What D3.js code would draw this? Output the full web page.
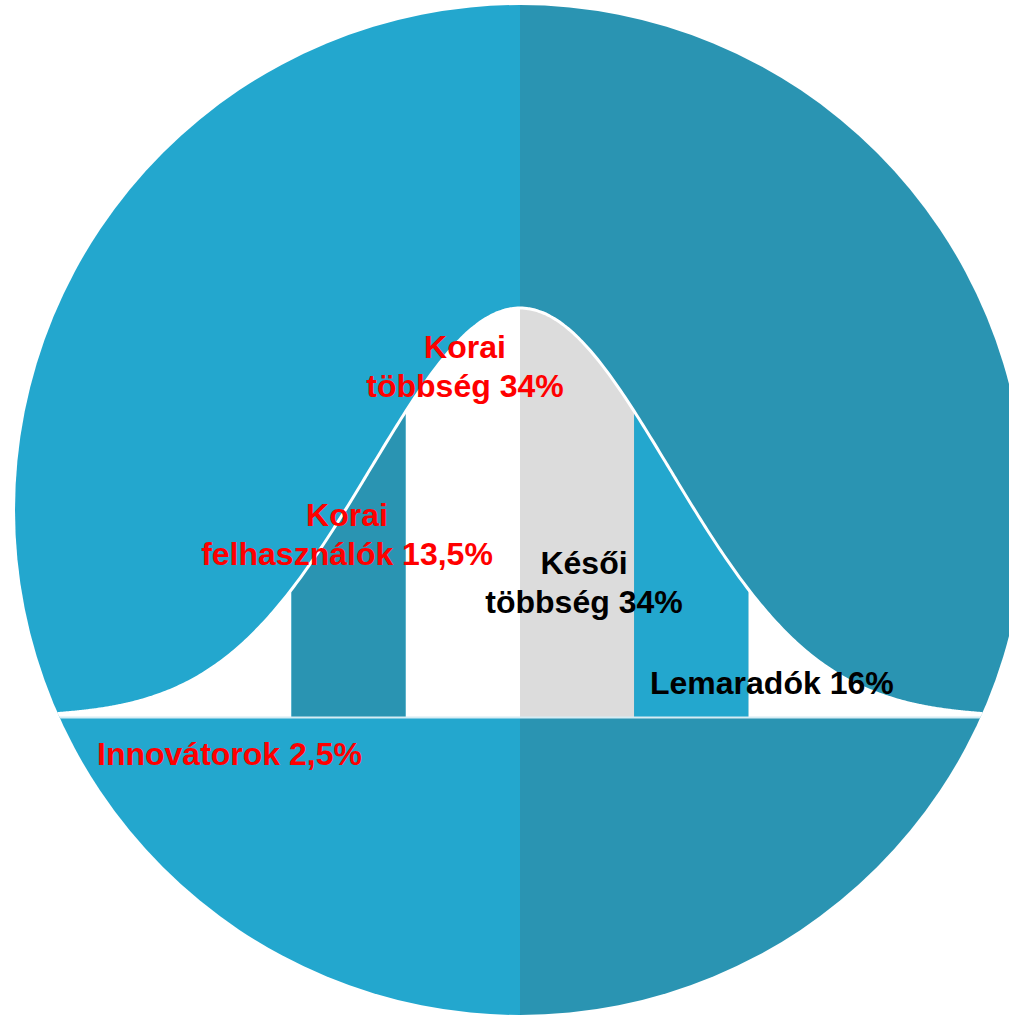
<!DOCTYPE html>
<html>
<head>
<meta charset="utf-8">
<script src="https://cdn.jsdelivr.net/npm/d3@7"></script>
<style>
  html, body { margin: 0; padding: 0; background: #ffffff; }
  svg { display: block; }
</style>
</head>
<body>
<script>
// ---- data ----
const categories = ["Innovátorok", "Korai felhasználók", "Korai többség", "Késői többség", "Lemaradók"];
const shares = ["2,5%", "13,5%", "34%", "34%", "16%"];
const labelColors = ["#ff0000", "#ff0000", "#ff0000", "#000000", "#000000"];
// bands of the bell curve, in standard-deviation units
const bandFrom = [-4.2, -2, -1, 0, 1, 2];
const bandTo   = [-2, -1, 0, 1, 2, 4.2];
const bandFill = ["#ffffff", "#2a94b2", "#ffffff", "#dcdcdc", "#23a7ce", "#ffffff"];
const curveSigma = 1.31;

// ---- layout ----
const W = 1009, H = 1017;
const cx = 520, cy = 510, R = 505;
const baseY = 717, peakY = 308;

const svg = d3.select("body").append("svg").attr("width", W).attr("height", H);

const x = d3.scaleLinear().domain([-4, 4]).range([63, 977]);
const y = d3.scaleLinear().domain([0, 1]).range([baseY, peakY]);
const dens = t => Math.exp(-(t * t) / (2 * curveSigma * curveSigma));

const defs = svg.append("defs");
defs.append("clipPath").attr("id", "circ")
  .append("circle").attr("cx", cx).attr("cy", cy).attr("r", R);

const g = svg.append("g").attr("clip-path", "url(#circ)");

// background halves
g.append("rect").attr("x", cx - R).attr("y", cy - R).attr("width", R).attr("height", 2 * R).attr("fill", "#23a7ce");
g.append("rect").attr("x", cx).attr("y", cy - R).attr("width", R).attr("height", 2 * R).attr("fill", "#2a94b2");

// bands under curve
const area = d3.area().x(d => x(d)).y0(baseY).y1(d => y(dens(d))).curve(d3.curveBasis);
bandFrom.forEach((a, i) => {
  const b = bandTo[i];
  const pts = d3.range(a, b + 1e-9, (b - a) / 60);
  if (pts[pts.length - 1] < b) pts.push(b);
  g.append("path").datum(pts).attr("d", area).attr("fill", bandFill[i]);
});

// curve outline
const full = d3.range(-4.3, 4.3 + 1e-9, 0.02);
const line = d3.line().x(d => x(d)).y(d => y(dens(d))).curve(d3.curveBasis);
g.append("path").datum(full).attr("d", line).attr("fill", "none").attr("stroke", "#ffffff").attr("stroke-width", 3);

// baseline
g.append("line").attr("x1", cx - R).attr("x2", cx + R).attr("y1", baseY + 0.5).attr("y2", baseY + 0.5)
  .attr("stroke", "#d6ecf3").attr("stroke-width", 2);

// ---- labels ----
const labelPos = [
  { x: 97,  y: 765, anchor: "start" },
  { x: 347, y: 526, anchor: "middle" },
  { x: 465, y: 358, anchor: "middle" },
  { x: 584, y: 574, anchor: "middle" },
  { x: 650, y: 694, anchor: "start" }
];
categories.forEach((c, i) => {
  const words = c.split(" ");
  const lines = words.length > 1 ? [words[0], words.slice(1).join(" ") + " " + shares[i]] : [c + " " + shares[i]];
  const t = svg.append("text")
    .attr("x", labelPos[i].x).attr("y", labelPos[i].y)
    .attr("text-anchor", labelPos[i].anchor)
    .attr("font-family", "'Liberation Sans', Arial, sans-serif")
    .attr("font-weight", "bold").attr("font-size", 32)
    .attr("fill", labelColors[i]);
  lines.forEach((l, k) => {
    t.append("tspan").attr("x", labelPos[i].x).attr("dy", k === 0 ? 0 : 38.5).text(l);
  });
});
</script>
</body>
</html>
